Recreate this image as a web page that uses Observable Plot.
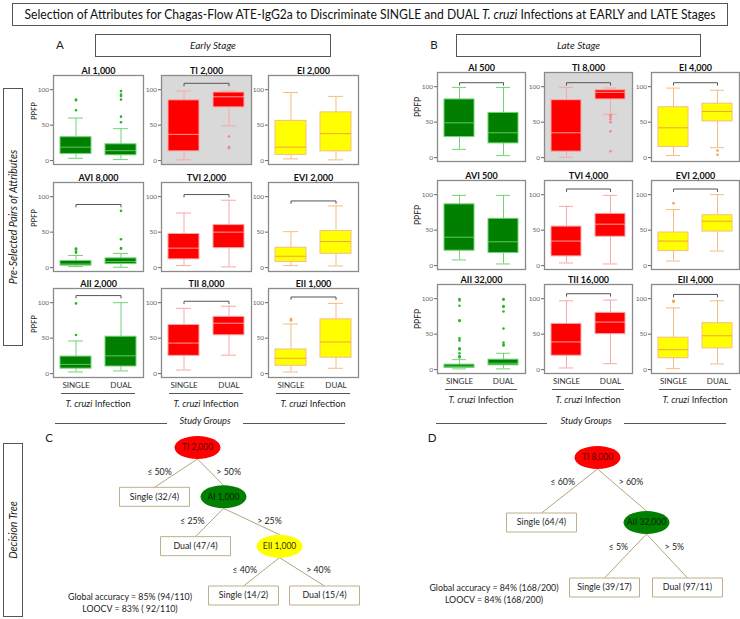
<!DOCTYPE html>
<html><head><meta charset="utf-8">
<script src="https://cdn.jsdelivr.net/npm/d3@7"></script>
<script src="https://cdn.jsdelivr.net/npm/@observablehq/plot@0.6"></script>
<style>
body{margin:0;background:#fff;font-family:Lato,"Open Sans",sans-serif;}
#root{position:relative;width:740px;height:619px;overflow:hidden;background:#fff;}
.bx{position:absolute;border:1px solid #555;box-sizing:border-box;}
.hl{position:absolute;height:0;border-top:1px solid #555;}
.t{position:absolute;white-space:nowrap;color:#222;}
</style></head><body><div id="root"></div>
<script>
// ---------------- DATA ----------------
const groups = ["SINGLE", "DUAL"];
const earlyTitles = ["AI 1,000","TI 2,000","EI 2,000","AVI 8,000","TVI 2,000","EVI 2,000","AII 2,000","TII 8,000","EII 1,000"];
const lateTitles  = ["AI 500","TI 8,000","EI 4,000","AVI 500","TVI 4,000","EVI 2,000","AII 32,000","TII 16,000","EII 4,000"];
// [lower whisker, Q1, median, Q3, upper whisker]
const earlySingleStats = [[3.3,9.4,19,33,60],[1,13,37,85,98],[2.4,8,19,56,96],[1.4,2.8,5,9.3,17],[2.8,11.6,27.4,47.4,77],[2.8,8,16,28,50.7],[2.3,7,13,24,46],[5,25,43,68.5,92],[2.3,11,21.6,34,70]];
const earlyDualStats   = [[1.4,7.5,14,23,45],[49,75,90,96,98],[1,13,38,68,90.5],[0.5,5,8.5,13,20],[1,27.4,50,60,95],[2.3,19.5,36.7,51.6,87],[3.8,10,25,52,100],[26,54,71,80,95],[7.5,22.5,44.6,76.5,99]];
const earlySingleOutliers = [[86,85,71],[],[],[27,26,23,21],[],[],[99,54.5],[],[77,75]];
const earlyDualOutliers   = [[98,93,91,86,62,54],[34,19,17.5],[],[80,40,27.5,26.5],[],[],[],[],[]];
const earlyBrackets = [null,109,null,89,103,94,110,102,108];
const earlyHighlight = "TI 2,000";
const lateSingleStats = [[11.6,29,49,82,99],[0.5,8.4,35,81,99],[3,15,42,71,98],[8,21,40,86.4,99],[3.7,13,34.6,55,83.6],[6.5,20.5,34.6,46.7,79],[1,2.3,4.7,7,14],[2.3,19.6,39,64.5,97],[1.4,16,28,45,87]];
const lateDualStats   = [[2.8,20,35,63,99],[61,82,92,95,98],[14,51,65,76,95],[2.3,17.8,33.6,66,99],[2.3,40.7,58.4,73,99],[20.5,48,62.6,71,100],[1,6,9,14,23],[8.4,50,67,80,98],[8,30,47.7,65.4,97]];
const lateSingleOutliers = [[],[],[],[],[],[88],[99.5,97.5,90,69.5,68.5,44,41,30,28.5,23,19,17],[],[97,95.5]];
const lateDualOutliers   = [[],[60,58.5,57.5,54,50,37,9],[10,4],[],[],[],[99.5,98.5,89.5,88.5,82,58,38,35,34],[],[]];
const lateBrackets = [105.6,105.6,105.6,null,108,108,null,107,106];
const lateHighlight = "TI 8,000";
const yTicks = [0, 50, 100];

// decision tree C
const treeCLabels = ["TI 2,000","Single (32/4)","AI 1,000","Dual (47/4)","EII 1,000","Single (14/2)","Dual (15/4)"];
const treeCParents = [-1,0,0,2,2,4,4];
const treeCEdges = ["","≤ 50%","> 50%","≤ 25%","> 25%","≤ 40%","> 40%"];
const treeCLevels = [0,1,1,2,2,3,3];
const treeCSlots = [19.7,15.4,22.3,19.5,27.9,24.3,32.4];
const treeCStats = ["Global accuracy = 85% (94/110)","LOOCV = 83% ( 92/110)"];
// decision tree D
const treeDLabels = ["TI 8,000","Single (64/4)","AII 32,000","Single (39/17)","Dual (97/11)"];
const treeDParents = [-1,0,0,2,2];
const treeDEdges = ["","≤ 60%","> 60%","≤ 5%","> 5%"];
const treeDLevels = [0,1,1,2,2];
const treeDSlots = [22.7,17.1,27.6,23.4,31.7];
const treeDStats = ["Global accuracy = 84% (168/200)","LOOCV = 84% (168/200)"];

// ---------------- HELPERS ----------------
const root = document.getElementById("root");
const FONT = "Lato, 'Open Sans', sans-serif";
const palette = {
  A: {fill:"#007f00", line:"#72d472", median:"#5ec85e", dot:"#2ab52a", text:"#002800"},
  T: {fill:"#ff0000", line:"#f6a9a9", median:"#ff9a9a", dot:"#f28a8a", text:"#5a0000"},
  E: {fill:"#ffff00", line:"#f5bd86", median:"#efa540", dot:"#f0a050", text:"#333300"}
};
function el(cls, html, style){const d=document.createElement("div");d.className=cls;if(html!=null)d.innerHTML=html;Object.assign(d.style,style);root.appendChild(d);return d;}
function ctext(html, cx, cy, size, extra={}){
  return el("t", html, Object.assign({left:(cx-150)+"px", width:"300px", textAlign:"center", top:(cy-size*0.62)+"px", fontSize:size+"px", lineHeight:(size*1.24)+"px"}, extra));
}
function hline(x1,x2,y,color="#555"){el("hl",null,{left:x1+"px",top:y+"px",width:(x2-x1)+"px",borderTopColor:color});}
function box(x,y,w,h){return el("bx",null,{left:x+"px",top:y+"px",width:w+"px",height:h+"px"});}

function boxChart(title, s, d, so, dout, br, hl, col, bottom, fw, fh, ppfpSize, left, top){
  const c = palette[title[0]];
  const stats = [s, d].map((v,i)=>({group:groups[i], lo:v[0], q1:v[1], med:v[2], q3:v[3], hi:v[4]}));
  const outs = [...so.map(v=>({group:"SINGLE", v})), ...dout.map(v=>({group:"DUAL", v}))];
  const brk = br == null ? [] : [{group:"SINGLE", v:br-3.5},{group:"SINGLE", v:br},{group:"DUAL", v:br},{group:"DUAL", v:br-3.5}];
  const ml = col === 0 ? 30 : 17, mt = 14, mb = bottom ? 20 : 1;
  const chart = Plot.plot({
    width: ml + fw + 1, height: mt + fh + mb,
    marginLeft: ml, marginRight: 1, marginTop: mt, marginBottom: mb,
    x: {domain: groups, paddingInner: 0.31, paddingOuter: 0.155, axis: null},
    y: {domain: [-5.5, 120], axis: null},
    style: {background: "transparent", fontFamily: FONT, color: "#666", overflow: "visible"},
    marks: [
      Plot.frame({fill: hl ? "#d9d9d9" : "#fff", stroke: "#8a8a8a", strokeWidth: 1.3}),
      Plot.axisY({ticks: yTicks, tickSize: 3, tickPadding: 1.5, fontSize: 6.5, label: null}),
      bottom ? Plot.axisX({tickSize: 0, tickPadding: 5, fontSize: 8, label: null, fill: "#333"}) : null,
      Plot.ruleX(stats, {x: "group", y1: "lo", y2: "hi", stroke: c.line, strokeWidth: 1}),
      Plot.tickY(stats, {x: "group", y: "lo", stroke: c.line, strokeWidth: 1, insetLeft: 8, insetRight: 8}),
      Plot.tickY(stats, {x: "group", y: "hi", stroke: c.line, strokeWidth: 1, insetLeft: 8, insetRight: 8}),
      Plot.barY(stats, {x: "group", y1: "q1", y2: "q3", fill: c.fill, stroke: c.line, strokeWidth: 1}),
      Plot.tickY(stats, {x: "group", y: "med", stroke: c.median, strokeWidth: 1}),
      Plot.dot(outs, {x: "group", y: "v", r: 1.3, fill: c.dot}),
      brk.length ? Plot.line(brk, {x: "group", y: "v", stroke: "#555", strokeWidth: 1}) : null,
      Plot.text([title], {frameAnchor: "top", dy: -8, fontWeight: "bold", fontSize: 9, fill: "#111"}),
      col === 0 ? Plot.text(["PPFP"], {frameAnchor: "left", dx: -19, rotate: -90, fontSize: ppfpSize, fill: "#222"}) : null
    ]
  });
  chart.style.position = "absolute";
  chart.style.left = (left - ml) + "px";
  chart.style.top = (top - mt) + "px";
  root.appendChild(chart);
}

function panel(titles, S, D, SO, DO, BR, highlight, lay){
  titles.forEach((t,i)=>{
    const r = Math.floor(i/3), c = i%3;
    boxChart(t, S[i], D[i], SO[i], DO[i], BR[i], t===highlight, c, r===2, lay.fw, lay.fh, lay.ppfp, lay.lefts[c], lay.tops[r]);
  });
  const bottomY = lay.tops[2] + lay.fh;
  lay.lefts.forEach(l=>{
    hline(l+8, l+lay.fw-8, bottomY+16, "#555");
    ctext("<i>T. cruzi</i> Infection", l+lay.fw/2, bottomY+27, 9.2, {color:"#222"});
  });
}

const ellipseSym = {draw(ctx){const rx=23, ry=11.5, k=0.5523;
  ctx.moveTo(-rx,0); ctx.bezierCurveTo(-rx,-ry*k,-rx*k,-ry,0,-ry); ctx.bezierCurveTo(rx*k,-ry,rx,-ry*k,rx,0);
  ctx.bezierCurveTo(rx,ry*k,rx*k,ry,0,ry); ctx.bezierCurveTo(-rx*k,ry,-rx,ry*k,-rx,0); ctx.closePath();}};
const leafSym = {draw(ctx){ctx.rect(-35,-9.5,70,19);}};

function tree(labels, parents, edgeLabels, levels, slots, left, top, w, h, xDomain, yDomain, yRange){
  const pxPerLevel = (yRange[1]-yRange[0])/(yDomain[1]-yDomain[0]);
  const nodes = labels.map((label,i)=>({label, level: levels[i], slot: slots[i], kind: /^(Single|Dual)/.test(label) ? "leaf" : label[0]}));
  const half = k => (k==="leaf" ? 9.5 : 11.5)/pxPerLevel;
  const edges = [];
  nodes.forEach((n,i)=>{
    if (parents[i] < 0) return;
    const p = nodes[parents[i]];
    const y1 = p.level + half(p.kind), y2 = n.level - half(n.kind);
    const ly = y1 + 13/pxPerLevel, t = (ly - y1)/(y2 - y1);
    edges.push({x1:p.slot, y1, x2:n.slot, y2, lx: p.slot + t*(n.slot-p.slot), ly, text: edgeLabels[i], left: n.slot < p.slot});
  });
  const marks = [
    Plot.link(edges, {x1:"x1", y1:"y1", x2:"x2", y2:"y2", stroke:"#b3a57c", strokeWidth:1}),
    Plot.text(edges.filter(e=>e.left), {x:"lx", y:"ly", text:"text", textAnchor:"end", dx:-6, fontSize:8.8, fill:"#222"}),
    Plot.text(edges.filter(e=>!e.left), {x:"lx", y:"ly", text:"text", textAnchor:"start", dx:6, fontSize:8.8, fill:"#222"}),
    Plot.dot(nodes.filter(n=>n.kind==="leaf"), {x:"slot", y:"level", symbol: leafSym, fill:"#fff", stroke:"#bdb08a", strokeWidth:1}),
  ];
  for (const k of ["T","A","E"]) {
    const sub = nodes.filter(n=>n.kind===k);
    if (!sub.length) continue;
    marks.push(Plot.dot(sub, {x:"slot", y:"level", symbol: ellipseSym, fill: palette[k].fill}));
    marks.push(Plot.text(sub, {x:"slot", y:"level", text:"label", fontSize:8.5, fill: palette[k].text}));
  }
  marks.push(Plot.text(nodes.filter(n=>n.kind==="leaf"), {x:"slot", y:"level", text:"label", fontSize:8.8, fill:"#222"}));
  const chart = Plot.plot({width:w, height:h, margin:0,
    x:{domain:xDomain, range:[0,w], axis:null}, y:{domain:yDomain, range:yRange, axis:null},
    style:{background:"transparent", fontFamily:FONT, overflow:"visible"}, marks});
  chart.style.position="absolute"; chart.style.left=left+"px"; chart.style.top=top+"px";
  root.appendChild(chart);
}

// ---------------- LAYOUT ----------------
const tb = box(12, 3, 716, 23);
const title = el("t", "Selection of Attributes for Chagas-Flow ATE-IgG2a to Discriminate SINGLE and DUAL <i>T. cruzi</i> Infections at EARLY and LATE Stages",
  {left:"0px", top:"0px", fontSize:"12.5px", lineHeight:"21px", transformOrigin:"0 0", color:"#111"});
tb.appendChild(title);

ctext("A", 60, 45, 11.5, {color:"#222"});
const eb = box(95, 34, 236, 23); eb.innerHTML = '<div style="text-align:center;font-style:italic;font-size:10px;line-height:21px;color:#222">Early Stage</div>';
ctext("B", 434, 45, 11.5, {color:"#222"});
const lb = box(456, 34, 245, 23); lb.innerHTML = '<div style="text-align:center;font-style:italic;font-size:10px;line-height:21px;color:#222">Late Stage</div>';

const vb1 = box(3, 88, 20, 258);
vb1.innerHTML = '<div style="position:absolute;left:50%;top:50%;transform:translate(-50%,-50%) rotate(-90deg);white-space:nowrap;font-style:italic;font-size:10.5px;color:#222">Pre-Selected Pairs of Attributes</div>';
const vb2 = box(3, 443, 20, 174);
vb2.innerHTML = '<div style="position:absolute;left:50%;top:50%;transform:translate(-50%,-50%) rotate(-90deg);white-space:nowrap;font-style:italic;font-size:10.5px;color:#222">Decision Tree</div>';

panel(earlyTitles, earlySingleStats, earlyDualStats, earlySingleOutliers, earlyDualOutliers, earlyBrackets, earlyHighlight,
  {lefts:[53,161,268], tops:[75,182,288], fw:90, fh:89, ppfp:7.5});
panel(lateTitles, lateSingleStats, lateDualStats, lateSingleOutliers, lateDualOutliers, lateBrackets, lateHighlight,
  {lefts:[437,544,651], tops:[72,180,284], fw:88, fh:89, ppfp:8.5});

hline(55,167,423); ctext("<i>Study Groups</i>", 205, 421, 9.2); hline(243,345,423);
hline(436,547,423); ctext("<i>Study Groups</i>", 586, 421, 9.2); hline(624,726,423);

ctext("C", 49, 438, 11.5);
ctext("D", 432, 438, 11.5);
tree(treeCLabels, treeCParents, treeCEdges, treeCLevels, treeCSlots, 0, 425, 370, 194, [0,37], [0,3], [22,170]);
tree(treeDLabels, treeDParents, treeDEdges, treeDLevels, treeDSlots, 370, 425, 370, 194, [0,37], [0,2], [32,162]);
ctext(treeCStats[0], 130, 597, 8.8); ctext(treeCStats[1], 130, 609, 8.8);
ctext(treeDStats[0], 494, 588, 8.8); ctext(treeDStats[1], 494, 600, 8.8);

function fit(){const w = title.getBoundingClientRect().width; const target = 691;
  const s = target / (w / (title._s || 1)); title._s = s;
  title.style.transform = `translateX(${(716-2-target)/2}px) scaleX(${s})`;}
fit();
if (document.fonts && document.fonts.ready) document.fonts.ready.then(fit);
</script></body></html>
